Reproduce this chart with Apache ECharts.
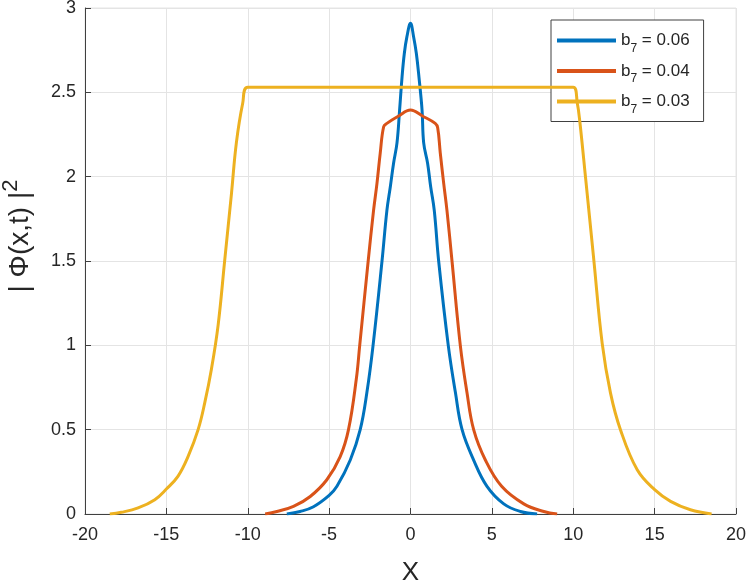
<!DOCTYPE html>
<html>
<head>
<meta charset="utf-8">
<script src="https://cdn.jsdelivr.net/npm/echarts@6/dist/echarts.min.js"></script>
<style>
  html, body { margin: 0; padding: 0; background: #fff; }
  #chart { width: 746px; height: 583px; }
</style>
</head>
<body>
<div id="chart"></div>
<script>
// b7 values shown in the legend
const b7Values = ["0.06", "0.04", "0.03"];
const colors = ["#0072BD", "#D95319", "#EDB120"];

// b7 = 0.06
const xBlue = [-7.6, -6.78, -5.96, -5.0, -4.52, -3.7, -3.09, -2.68, -2.3, -1.75, -1.45, -1.24, -1.04, -0.83, -0.67, -0.52, -0.38, -0.22, 0,
  0.19, 0.36, 0.52, 0.71, 0.81, 1.05, 1.24, 1.46, 1.73, 2.32, 2.76, 3.17, 3.88, 4.7, 5.73, 6.75, 7.78];
const yBlue = [0, 0.015, 0.043, 0.11, 0.164, 0.32, 0.5, 0.72, 1.0, 1.5, 1.8, 1.94, 2.08, 2.2, 2.395, 2.59, 2.73, 2.83, 2.91,
  2.83, 2.73, 2.59, 2.395, 2.2, 2.08, 1.94, 1.8, 1.5, 1.0, 0.72, 0.5, 0.32, 0.164, 0.06, 0.015, 0];

// b7 = 0.04
const xRed = [-8.93, -8.21, -7.19, -6.16, -5.14, -4.32, -3.81, -3.33, -3.12, -2.6, -2.27, -2.06, -1.86, -1.65, -1.45, -0.73, 0,
  0.73, 1.52, 1.67, 1.83, 2.04, 2.24, 2.55, 3.06, 3.47, 3.88, 4.6, 5.6, 6.96, 8.19, 9.01];
const yRed = [0, 0.015, 0.045, 0.104, 0.203, 0.34, 0.5, 0.8, 1.0, 1.5, 1.8, 1.96, 2.14, 2.296, 2.316, 2.36, 2.395,
  2.36, 2.316, 2.29, 2.14, 1.96, 1.8, 1.5, 1.0, 0.72, 0.5, 0.32, 0.164, 0.06, 0.015, 0];

// b7 = 0.03
const xYellow = [-18.48, -17.77, -16.74, -15.71, -15.0, -14.28, -13.67, -13.05, -12.64, -12.23, -11.82, -11.41, -11.0, -10.7, -10.31, -10.0,
  10.0, 10.25, 10.4, 10.75, 11.26, 11.78, 12.29, 12.9, 13.93, 15.0, 15.98, 17.2, 18.5];
const yYellow = [0, 0.01, 0.036, 0.085, 0.148, 0.225, 0.34, 0.5, 0.66, 0.86, 1.12, 1.51, 1.9, 2.2, 2.435, 2.53,
  2.53, 2.435, 2.33, 2.0, 1.51, 1.01, 0.717, 0.5, 0.262, 0.144, 0.075, 0.025, 0];

const xs = [xBlue, xRed, xYellow];
const ys = [yBlue, yRed, yYellow];

const font = "'Liberation Sans', Arial, Helvetica, sans-serif";
const axisColor = "#404040";
const gridColor = "#e4e4e4";

const chart = echarts.init(document.getElementById("chart"));

const series = b7Values.map((name, i) => ({
  name,
  type: "line",
  data: xs[i].map((x, k) => [x, ys[i][k]]),
  showSymbol: false,
  smooth: 0.4,
  lineStyle: { color: colors[i], width: 3 },
  itemStyle: { color: colors[i] },
  z: 3 + i,
}));

chart.setOption({
  animation: false,
  backgroundColor: "#fff",
  grid: {
    left: 85,
    right: 10,
    top: 8,
    bottom: 69,
    outerBoundsMode: "none",
    show: true,
    borderColor: gridColor,
    borderWidth: 1,
  },
  legend: {
    left: 551,
    top: 20,
    orient: "vertical",
    icon: "rect",
    itemWidth: 59,
    itemHeight: 4,
    itemGap: 8,
    itemTextGap: 5,
    padding: [12, 14, 6, 6],
    borderColor: axisColor,
    borderWidth: 1,
    backgroundColor: "#fff",
    formatter: (name) => `{m|b}{s|7}{m| = ${name}}`,
    textStyle: {
      fontFamily: font,
      color: "#262626",
      rich: {
        m: { fontSize: 17, lineHeight: 28, fontFamily: font, color: "#262626" },
        s: { fontSize: 12, lineHeight: 12, verticalAlign: "bottom", fontFamily: font, color: "#262626" },
      },
    },
  },
  xAxis: {
    type: "value",
    min: -20,
    max: 20,
    interval: 5,
    name: "X",
    nameLocation: "middle",
    nameGap: 46,
    nameTextStyle: { fontFamily: font, fontSize: 26, color: "#262626" },
    axisLine: { show: true, onZero: false, lineStyle: { color: axisColor, width: 1 } },
    axisTick: { show: true, inside: true, length: 6, lineStyle: { color: axisColor } },
    axisLabel: { fontFamily: font, fontSize: 18, color: "#262626", margin: 12 },
    splitLine: { show: true, lineStyle: { color: gridColor, width: 1 } },
  },
  yAxis: {
    type: "value",
    min: 0,
    max: 3,
    interval: 0.5,
    name: "| Φ(x,t) |{sup|2}",
    nameLocation: "middle",
    nameGap: 40,
    nameRotate: 90,
    nameTextStyle: {
      fontFamily: font,
      fontSize: 28,
      color: "#262626",
      lineHeight: 40,
      padding: [0, 0, 0, 50],
      rich: {
        sup: { fontSize: 22, lineHeight: 20, verticalAlign: "top", fontFamily: font, color: "#262626" },
      },
    },
    axisLine: { show: true, onZero: false, lineStyle: { color: axisColor, width: 1 } },
    axisTick: { show: true, inside: true, length: 6, lineStyle: { color: axisColor } },
    axisLabel: { fontFamily: font, fontSize: 18, color: "#262626", margin: 9 },
    splitLine: { show: true, lineStyle: { color: gridColor, width: 1 } },
  },
  series,
});
</script>
</body>
</html>
